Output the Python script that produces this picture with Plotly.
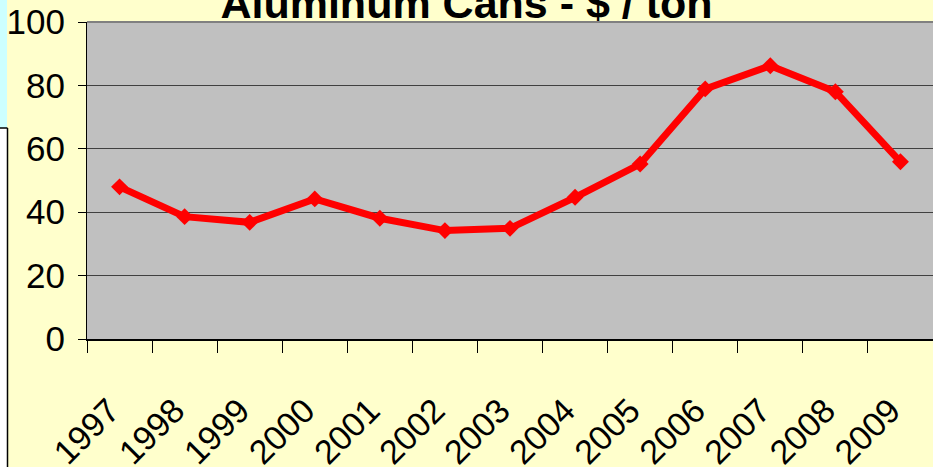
import plotly.graph_objects as go

years = ["1997", "1998", "1999", "2000", "2001", "2002", "2003",
         "2004", "2005", "2006", "2007", "2008", "2009"]
price = [48.0, 38.6, 36.8, 44.2, 38.1, 34.2, 34.9, 44.7, 55.2, 78.9, 86.2, 78.0, 55.9]
y_ticks = [0, 20, 40, 60, 80, 100]

W, H = 933, 467
L, R, T, B = 87, 0, 22, 128
PW, PH = W - L - R, H - T - B


def px(x):
    return (x - L) / PW


def py(y):
    return (H - B - y) / PH


font = "Liberation Sans, Arial, sans-serif"

fig = go.Figure()
fig.add_trace(go.Scatter(
    x=years, y=price, mode="lines+markers",
    line=dict(color="#FF0000", width=7),
    marker=dict(symbol="diamond", size=13, color="#FF0000"),
    hoverinfo="skip", showlegend=False,
))

fig.update_layout(
    width=W, height=H,
    margin=dict(l=L, r=R, t=T, b=B, autoexpand=False),
    paper_bgcolor="#FFFFCC",
    plot_bgcolor="#C0C0C0",
    title=dict(
        text="<b>Aluminum Cans - $ / ton</b>",
        font=dict(family=font, size=43, color="#000000"),
        x=0.5, xanchor="center", xref="container",
        y=0.994, yanchor="middle", yref="container",
    ),
    xaxis=dict(
        type="category", tickson="boundaries",
        range=[-0.5, len(years) - 0.5],
        ticks="outside", ticklen=12, tickcolor="#000000", tickwidth=1,
        showline=True, linecolor="#000000", linewidth=2,
        showgrid=False, tickangle=-45,
        tickfont=dict(family=font, size=34, color="#000000"),
        ticklabelstandoff=36, ticklabelshift=-10,
        automargin=False, fixedrange=True,
    ),
    yaxis=dict(
        range=[0, 100], tickvals=y_ticks, ticktext=[str(v) for v in y_ticks],
        ticks="outside", ticklen=8, tickcolor="#000000", tickwidth=1,
        showline=True, linecolor="#000000", linewidth=1,
        showgrid=True, gridcolor="#404040", gridwidth=1,
        zeroline=False,
        tickfont=dict(family=font, size=35, color="#000000"),
        ticklabelstandoff=6,
        automargin=False, fixedrange=True,
    ),
    shapes=[
        dict(type="line", xref="paper", yref="paper", x0=0, x1=1, y0=1, y1=1,
             line=dict(color="#808080", width=2), layer="above"),
        dict(type="rect", xref="paper", yref="paper", x0=px(0), x1=px(7), y0=py(0), y1=py(128),
             fillcolor="#CCFFFF", line=dict(width=0), layer="above"),
        dict(type="rect", xref="paper", yref="paper", x0=px(0), x1=px(7), y0=py(128), y1=py(H),
             fillcolor="#FFFFFF", line=dict(width=0), layer="above"),
        dict(type="line", xref="paper", yref="paper", x0=px(0), x1=px(7.5), y0=py(128), y1=py(128),
             line=dict(color="#000000", width=1.5), layer="above"),
        dict(type="line", xref="paper", yref="paper", x0=px(7.5), x1=px(7.5), y0=py(128), y1=py(H),
             line=dict(color="#000000", width=1.5), layer="above"),
    ],
)

fig.write_html(
    "out.html",
    config={"displayModeBar": False},
    post_script="document.body.style.margin='0';document.body.style.overflow='hidden';",
)
